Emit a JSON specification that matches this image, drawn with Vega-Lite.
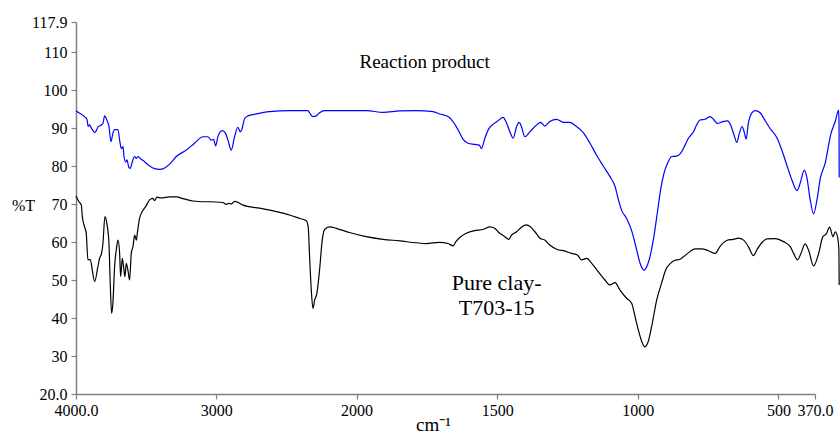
{
  "$schema": "https://vega.github.io/schema/vega-lite/v6.json",
  "width": 739,
  "height": 372,
  "autosize": {"type": "none"},
  "padding": {"left": 76, "top": 22, "right": 25, "bottom": 41},
  "background": "white",
  "config": {
    "view": {"stroke": null},
    "font": "Liberation Serif, serif",
    "axis": {
      "grid": false,
      "domainColor": "#808080",
      "domainWidth": 1.5,
      "tickColor": "#808080",
      "tickWidth": 1.2,
      "tickSize": 5,
      "labelColor": "#000000",
      "labelFont": "Liberation Serif, serif",
      "labelFontSize": 16,
      "titleFont": "Liberation Serif, serif",
      "titleFontWeight": "normal",
      "titleColor": "#000000"
    }
  },
  "datasets": {
    "spectra": [
      {"s": "b", "wn": 4000, "T": 94.5}, {"s": "b", "wn": 3974, "T": 93.9}, {"s": "b", "wn": 3939, "T": 93.0}, {"s": "b", "wn": 3922, "T": 92.3},
      {"s": "b", "wn": 3913, "T": 90.4}, {"s": "b", "wn": 3903, "T": 90.8}, {"s": "b", "wn": 3889, "T": 89.9}, {"s": "b", "wn": 3865, "T": 88.8},
      {"s": "b", "wn": 3844, "T": 90.2}, {"s": "b", "wn": 3820, "T": 90.8}, {"s": "b", "wn": 3808, "T": 91.2}, {"s": "b", "wn": 3796, "T": 93.2},
      {"s": "b", "wn": 3780, "T": 92.1}, {"s": "b", "wn": 3765, "T": 90.4}, {"s": "b", "wn": 3751, "T": 86.4}, {"s": "b", "wn": 3737, "T": 88.6},
      {"s": "b", "wn": 3725, "T": 89.6}, {"s": "b", "wn": 3701, "T": 89.6}, {"s": "b", "wn": 3689, "T": 86.8}, {"s": "b", "wn": 3677, "T": 84.6},
      {"s": "b", "wn": 3665, "T": 85.1}, {"s": "b", "wn": 3658, "T": 82.5}, {"s": "b", "wn": 3646, "T": 81.1}, {"s": "b", "wn": 3637, "T": 81.6},
      {"s": "b", "wn": 3623, "T": 79.6}, {"s": "b", "wn": 3613, "T": 79.4}, {"s": "b", "wn": 3599, "T": 81.1}, {"s": "b", "wn": 3582, "T": 82.5},
      {"s": "b", "wn": 3570, "T": 82.0}, {"s": "b", "wn": 3558, "T": 82.5}, {"s": "b", "wn": 3542, "T": 82.0}, {"s": "b", "wn": 3511, "T": 81.1},
      {"s": "b", "wn": 3475, "T": 80.0}, {"s": "b", "wn": 3440, "T": 79.3}, {"s": "b", "wn": 3404, "T": 79.1}, {"s": "b", "wn": 3368, "T": 79.5},
      {"s": "b", "wn": 3333, "T": 80.5}, {"s": "b", "wn": 3285, "T": 82.5}, {"s": "b", "wn": 3214, "T": 84.2}, {"s": "b", "wn": 3155, "T": 86.0},
      {"s": "b", "wn": 3095, "T": 87.7}, {"s": "b", "wn": 3060, "T": 87.7}, {"s": "b", "wn": 3036, "T": 86.8}, {"s": "b", "wn": 3019, "T": 87.0},
      {"s": "b", "wn": 3005, "T": 85.3}, {"s": "b", "wn": 2988, "T": 87.8}, {"s": "b", "wn": 2958, "T": 89.3}, {"s": "b", "wn": 2934, "T": 88.6},
      {"s": "b", "wn": 2917, "T": 86.8}, {"s": "b", "wn": 2893, "T": 84.2}, {"s": "b", "wn": 2870, "T": 87.7}, {"s": "b", "wn": 2846, "T": 90.2},
      {"s": "b", "wn": 2829, "T": 89.0}, {"s": "b", "wn": 2818, "T": 89.6}, {"s": "b", "wn": 2798, "T": 92.5}, {"s": "b", "wn": 2775, "T": 93.2},
      {"s": "b", "wn": 2715, "T": 93.7}, {"s": "b", "wn": 2620, "T": 94.3}, {"s": "b", "wn": 2478, "T": 94.6}, {"s": "b", "wn": 2347, "T": 94.6},
      {"s": "b", "wn": 2330, "T": 93.7}, {"s": "b", "wn": 2311, "T": 93.0}, {"s": "b", "wn": 2288, "T": 93.2}, {"s": "b", "wn": 2264, "T": 94.0},
      {"s": "b", "wn": 2228, "T": 94.6}, {"s": "b", "wn": 2050, "T": 94.6}, {"s": "b", "wn": 1965, "T": 94.6}, {"s": "b", "wn": 1906, "T": 94.1},
      {"s": "b", "wn": 1847, "T": 94.5}, {"s": "b", "wn": 1788, "T": 94.6}, {"s": "b", "wn": 1728, "T": 94.3}, {"s": "b", "wn": 1705, "T": 93.7},
      {"s": "b", "wn": 1675, "T": 93.0}, {"s": "b", "wn": 1657, "T": 91.7}, {"s": "b", "wn": 1639, "T": 89.5}, {"s": "b", "wn": 1621, "T": 87.0},
      {"s": "b", "wn": 1604, "T": 86.0}, {"s": "b", "wn": 1580, "T": 85.7}, {"s": "b", "wn": 1564, "T": 85.5}, {"s": "b", "wn": 1556, "T": 84.6},
      {"s": "b", "wn": 1544, "T": 87.3}, {"s": "b", "wn": 1529, "T": 89.9}, {"s": "b", "wn": 1518, "T": 90.8}, {"s": "b", "wn": 1497, "T": 91.9},
      {"s": "b", "wn": 1479, "T": 92.8}, {"s": "b", "wn": 1469, "T": 91.7}, {"s": "b", "wn": 1455, "T": 89.0}, {"s": "b", "wn": 1443, "T": 87.3},
      {"s": "b", "wn": 1431, "T": 90.4}, {"s": "b", "wn": 1422, "T": 91.5}, {"s": "b", "wn": 1414, "T": 90.4}, {"s": "b", "wn": 1402, "T": 87.7},
      {"s": "b", "wn": 1384, "T": 89.0}, {"s": "b", "wn": 1360, "T": 90.8}, {"s": "b", "wn": 1346, "T": 91.5}, {"s": "b", "wn": 1331, "T": 90.5},
      {"s": "b", "wn": 1313, "T": 91.7}, {"s": "b", "wn": 1289, "T": 92.3}, {"s": "b", "wn": 1265, "T": 91.5}, {"s": "b", "wn": 1242, "T": 91.5},
      {"s": "b", "wn": 1218, "T": 90.4}, {"s": "b", "wn": 1194, "T": 88.8}, {"s": "b", "wn": 1170, "T": 86.0}, {"s": "b", "wn": 1147, "T": 82.9},
      {"s": "b", "wn": 1123, "T": 80.0}, {"s": "b", "wn": 1099, "T": 77.2}, {"s": "b", "wn": 1081, "T": 74.6}, {"s": "b", "wn": 1069, "T": 71.1},
      {"s": "b", "wn": 1058, "T": 68.4}, {"s": "b", "wn": 1040, "T": 66.2}, {"s": "b", "wn": 1022, "T": 63.0}, {"s": "b", "wn": 1016, "T": 61.4},
      {"s": "b", "wn": 1004, "T": 57.9}, {"s": "b", "wn": 992, "T": 54.4}, {"s": "b", "wn": 978, "T": 52.6}, {"s": "b", "wn": 966, "T": 53.9},
      {"s": "b", "wn": 954, "T": 57.0}, {"s": "b", "wn": 943, "T": 61.4}, {"s": "b", "wn": 931, "T": 67.5}, {"s": "b", "wn": 919, "T": 73.7},
      {"s": "b", "wn": 907, "T": 78.1}, {"s": "b", "wn": 892, "T": 81.1}, {"s": "b", "wn": 880, "T": 82.5}, {"s": "b", "wn": 862, "T": 82.6},
      {"s": "b", "wn": 848, "T": 83.3}, {"s": "b", "wn": 832, "T": 85.5}, {"s": "b", "wn": 820, "T": 87.3}, {"s": "b", "wn": 802, "T": 89.0},
      {"s": "b", "wn": 791, "T": 90.8}, {"s": "b", "wn": 779, "T": 92.1}, {"s": "b", "wn": 761, "T": 92.3}, {"s": "b", "wn": 743, "T": 93.0},
      {"s": "b", "wn": 731, "T": 92.3}, {"s": "b", "wn": 717, "T": 91.2}, {"s": "b", "wn": 698, "T": 91.7}, {"s": "b", "wn": 681, "T": 91.9},
      {"s": "b", "wn": 670, "T": 90.8}, {"s": "b", "wn": 658, "T": 88.2}, {"s": "b", "wn": 648, "T": 86.2}, {"s": "b", "wn": 639, "T": 88.6},
      {"s": "b", "wn": 629, "T": 90.4}, {"s": "b", "wn": 622, "T": 89.0}, {"s": "b", "wn": 615, "T": 87.1}, {"s": "b", "wn": 607, "T": 91.2},
      {"s": "b", "wn": 595, "T": 93.9}, {"s": "b", "wn": 583, "T": 94.6}, {"s": "b", "wn": 565, "T": 94.0}, {"s": "b", "wn": 547, "T": 91.9},
      {"s": "b", "wn": 529, "T": 89.8}, {"s": "b", "wn": 506, "T": 87.5}, {"s": "b", "wn": 488, "T": 84.2}, {"s": "b", "wn": 470, "T": 80.2},
      {"s": "b", "wn": 452, "T": 76.3}, {"s": "b", "wn": 434, "T": 73.5}, {"s": "b", "wn": 423, "T": 75.4}, {"s": "b", "wn": 408, "T": 78.9},
      {"s": "b", "wn": 399, "T": 77.0}, {"s": "b", "wn": 387, "T": 71.1}, {"s": "b", "wn": 375, "T": 67.4}, {"s": "b", "wn": 363, "T": 71.1},
      {"s": "b", "wn": 351, "T": 76.8}, {"s": "b", "wn": 334, "T": 80.7}, {"s": "b", "wn": 313, "T": 88.6}, {"s": "b", "wn": 298, "T": 91.7},
      {"s": "b", "wn": 286, "T": 94.7}, {"s": "b", "wn": 284.5, "T": 91.0}, {"s": "b", "wn": 284, "T": 77.0},

      {"s": "k", "wn": 4000, "T": 72.1}, {"s": "k", "wn": 3979, "T": 70.6}, {"s": "k", "wn": 3962, "T": 69.7}, {"s": "k", "wn": 3955, "T": 66.7},
      {"s": "k", "wn": 3939, "T": 64.0}, {"s": "k", "wn": 3927, "T": 62.3}, {"s": "k", "wn": 3915, "T": 55.3}, {"s": "k", "wn": 3898, "T": 55.4},
      {"s": "k", "wn": 3884, "T": 52.6}, {"s": "k", "wn": 3867, "T": 49.6}, {"s": "k", "wn": 3844, "T": 53.5}, {"s": "k", "wn": 3832, "T": 55.7},
      {"s": "k", "wn": 3818, "T": 57.0}, {"s": "k", "wn": 3808, "T": 59.6}, {"s": "k", "wn": 3794, "T": 66.7}, {"s": "k", "wn": 3780, "T": 64.9},
      {"s": "k", "wn": 3765, "T": 59.6}, {"s": "k", "wn": 3756, "T": 49.1}, {"s": "k", "wn": 3746, "T": 41.2}, {"s": "k", "wn": 3737, "T": 43.9},
      {"s": "k", "wn": 3725, "T": 53.5}, {"s": "k", "wn": 3713, "T": 57.9}, {"s": "k", "wn": 3701, "T": 60.5}, {"s": "k", "wn": 3689, "T": 57.0},
      {"s": "k", "wn": 3682, "T": 50.9}, {"s": "k", "wn": 3670, "T": 55.7}, {"s": "k", "wn": 3661, "T": 53.5}, {"s": "k", "wn": 3651, "T": 50.9},
      {"s": "k", "wn": 3642, "T": 54.4}, {"s": "k", "wn": 3630, "T": 52.6}, {"s": "k", "wn": 3618, "T": 50.0}, {"s": "k", "wn": 3606, "T": 57.0},
      {"s": "k", "wn": 3594, "T": 58.8}, {"s": "k", "wn": 3582, "T": 61.8}, {"s": "k", "wn": 3570, "T": 60.5}, {"s": "k", "wn": 3563, "T": 62.3},
      {"s": "k", "wn": 3547, "T": 66.2}, {"s": "k", "wn": 3528, "T": 68.0}, {"s": "k", "wn": 3504, "T": 69.3}, {"s": "k", "wn": 3475, "T": 71.1},
      {"s": "k", "wn": 3452, "T": 71.5}, {"s": "k", "wn": 3440, "T": 70.9}, {"s": "k", "wn": 3423, "T": 71.8}, {"s": "k", "wn": 3392, "T": 71.6},
      {"s": "k", "wn": 3333, "T": 71.9}, {"s": "k", "wn": 3285, "T": 71.9}, {"s": "k", "wn": 3238, "T": 71.4}, {"s": "k", "wn": 3166, "T": 70.8},
      {"s": "k", "wn": 3095, "T": 70.6}, {"s": "k", "wn": 3048, "T": 70.6}, {"s": "k", "wn": 2953, "T": 70.4}, {"s": "k", "wn": 2929, "T": 69.9},
      {"s": "k", "wn": 2910, "T": 70.2}, {"s": "k", "wn": 2893, "T": 70.0}, {"s": "k", "wn": 2870, "T": 70.7}, {"s": "k", "wn": 2834, "T": 70.2},
      {"s": "k", "wn": 2810, "T": 69.7}, {"s": "k", "wn": 2691, "T": 68.9}, {"s": "k", "wn": 2573, "T": 68.0}, {"s": "k", "wn": 2478, "T": 67.1},
      {"s": "k", "wn": 2406, "T": 66.2}, {"s": "k", "wn": 2359, "T": 65.6}, {"s": "k", "wn": 2345, "T": 64.0}, {"s": "k", "wn": 2335, "T": 56.1},
      {"s": "k", "wn": 2323, "T": 47.4}, {"s": "k", "wn": 2311, "T": 42.5}, {"s": "k", "wn": 2299, "T": 44.7}, {"s": "k", "wn": 2283, "T": 46.5},
      {"s": "k", "wn": 2264, "T": 52.6}, {"s": "k", "wn": 2245, "T": 60.5}, {"s": "k", "wn": 2228, "T": 63.3}, {"s": "k", "wn": 2192, "T": 64.0},
      {"s": "k", "wn": 2145, "T": 63.6}, {"s": "k", "wn": 2050, "T": 62.5}, {"s": "k", "wn": 1966, "T": 61.4}, {"s": "k", "wn": 1906, "T": 60.7},
      {"s": "k", "wn": 1847, "T": 60.3}, {"s": "k", "wn": 1788, "T": 59.8}, {"s": "k", "wn": 1752, "T": 59.6}, {"s": "k", "wn": 1705, "T": 59.9},
      {"s": "k", "wn": 1675, "T": 59.6}, {"s": "k", "wn": 1657, "T": 59.0}, {"s": "k", "wn": 1647, "T": 60.1}, {"s": "k", "wn": 1633, "T": 61.2},
      {"s": "k", "wn": 1610, "T": 62.3}, {"s": "k", "wn": 1580, "T": 63.0}, {"s": "k", "wn": 1550, "T": 63.3}, {"s": "k", "wn": 1526, "T": 64.0},
      {"s": "k", "wn": 1509, "T": 63.6}, {"s": "k", "wn": 1491, "T": 62.3}, {"s": "k", "wn": 1473, "T": 61.4}, {"s": "k", "wn": 1459, "T": 60.7},
      {"s": "k", "wn": 1449, "T": 61.8}, {"s": "k", "wn": 1431, "T": 62.7}, {"s": "k", "wn": 1414, "T": 63.9}, {"s": "k", "wn": 1396, "T": 64.5},
      {"s": "k", "wn": 1382, "T": 64.0}, {"s": "k", "wn": 1366, "T": 62.7}, {"s": "k", "wn": 1348, "T": 61.0}, {"s": "k", "wn": 1331, "T": 60.5},
      {"s": "k", "wn": 1313, "T": 59.2}, {"s": "k", "wn": 1289, "T": 58.1}, {"s": "k", "wn": 1259, "T": 57.6}, {"s": "k", "wn": 1236, "T": 57.0},
      {"s": "k", "wn": 1215, "T": 56.6}, {"s": "k", "wn": 1200, "T": 55.3}, {"s": "k", "wn": 1182, "T": 55.7}, {"s": "k", "wn": 1164, "T": 54.4},
      {"s": "k", "wn": 1141, "T": 52.2}, {"s": "k", "wn": 1117, "T": 50.0}, {"s": "k", "wn": 1099, "T": 48.7}, {"s": "k", "wn": 1081, "T": 49.3},
      {"s": "k", "wn": 1064, "T": 47.4}, {"s": "k", "wn": 1040, "T": 45.2}, {"s": "k", "wn": 1022, "T": 43.9}, {"s": "k", "wn": 1010, "T": 40.4},
      {"s": "k", "wn": 998, "T": 36.8}, {"s": "k", "wn": 986, "T": 33.8}, {"s": "k", "wn": 975, "T": 32.4}, {"s": "k", "wn": 963, "T": 33.8},
      {"s": "k", "wn": 951, "T": 37.7}, {"s": "k", "wn": 933, "T": 44.7}, {"s": "k", "wn": 915, "T": 49.3}, {"s": "k", "wn": 900, "T": 52.8},
      {"s": "k", "wn": 885, "T": 54.3}, {"s": "k", "wn": 868, "T": 55.2}, {"s": "k", "wn": 852, "T": 55.4}, {"s": "k", "wn": 838, "T": 56.1},
      {"s": "k", "wn": 814, "T": 57.5}, {"s": "k", "wn": 797, "T": 58.2}, {"s": "k", "wn": 773, "T": 58.2}, {"s": "k", "wn": 749, "T": 57.7},
      {"s": "k", "wn": 725, "T": 57.0}, {"s": "k", "wn": 708, "T": 58.8}, {"s": "k", "wn": 684, "T": 60.4}, {"s": "k", "wn": 660, "T": 60.7},
      {"s": "k", "wn": 642, "T": 61.0}, {"s": "k", "wn": 624, "T": 60.5}, {"s": "k", "wn": 607, "T": 58.8}, {"s": "k", "wn": 589, "T": 56.4},
      {"s": "k", "wn": 577, "T": 57.9}, {"s": "k", "wn": 559, "T": 59.8}, {"s": "k", "wn": 541, "T": 60.8}, {"s": "k", "wn": 512, "T": 60.9},
      {"s": "k", "wn": 482, "T": 60.1}, {"s": "k", "wn": 458, "T": 58.8}, {"s": "k", "wn": 446, "T": 57.0}, {"s": "k", "wn": 432, "T": 55.3},
      {"s": "k", "wn": 420, "T": 57.0}, {"s": "k", "wn": 405, "T": 59.5}, {"s": "k", "wn": 393, "T": 57.9}, {"s": "k", "wn": 375, "T": 53.7},
      {"s": "k", "wn": 357, "T": 57.0}, {"s": "k", "wn": 342, "T": 61.4}, {"s": "k", "wn": 330, "T": 62.1}, {"s": "k", "wn": 318, "T": 63.9},
      {"s": "k", "wn": 306, "T": 61.4}, {"s": "k", "wn": 298, "T": 62.7}, {"s": "k", "wn": 290, "T": 61.4}, {"s": "k", "wn": 285, "T": 57.9},
      {"s": "k", "wn": 284, "T": 48.7}
    ],
    "note1": [{"wn": 1758, "T": 107.4, "label": "Reaction product"}],
    "note2": [
      {"wn": 1502, "T": 49.1, "label": "Pure clay-"},
      {"wn": 1502, "T": 42.6, "label": "T703-15"}
    ]
  },
  "encoding": {
    "x": {
      "field": "wn",
      "type": "quantitative",
      "scale": {"domain": [4000, 2000, 370], "range": [0, 280.6, 739], "nice": false, "zero": false},
      "axis": {
        "values": [4000, 3000, 2000, 1500, 1000, 500, 370],
        "labelExpr": "datum.value == 4000 ? '4000.0' : datum.value == 370 ? '370.0' : format(datum.value, 'd')",
        "labelFont": "Liberation Serif, serif",
        "labelFontSize": 16,
        "labelPadding": 3,
        "labelFlush": false,
        "labelOverlap": false,
        "title": "cm⁻¹",
        "titleFont": "Liberation Serif, serif",
        "titleFontSize": 19,
        "titleX": 357,
        "titleY": 36,
        "titleBaseline": "alphabetic",
        "titleAlign": "center"
      }
    },
    "y": {
      "field": "T",
      "type": "quantitative",
      "scale": {"domain": [20, 117.9], "nice": false, "zero": false},
      "axis": {
        "values": [20, 30, 40, 50, 60, 70, 80, 90, 100, 110, 117.9],
        "labelExpr": "datum.value == 20 ? '20.0' : datum.value == 117.9 ? '117.9' : format(datum.value, 'd')",
        "labelFont": "Liberation Serif, serif",
        "labelFontSize": 16,
        "labelPadding": 4,
        "labelFlush": false,
        "labelOverlap": false,
        "title": "%T",
        "titleFont": "Liberation Serif, serif",
        "titleFontSize": 16,
        "titleAngle": 0,
        "titleX": -53,
        "titleY": 183,
        "titleAlign": "center",
        "titleBaseline": "middle"
      }
    }
  },
  "layer": [
    {
      "data": {"name": "spectra"},
      "mark": {"type": "line", "strokeWidth": 1.2, "interpolate": "monotone", "clip": false},
      "encoding": {
        "color": {"field": "s", "type": "nominal", "scale": {"domain": ["b", "k"], "range": ["#0000ff", "#000000"]}, "legend": null}
      }
    },
    {
      "data": {"name": "note1"},
      "mark": {"type": "text", "font": "Liberation Serif, serif", "fontSize": 19, "align": "center", "baseline": "middle", "color": "#000000"},
      "encoding": {"text": {"field": "label"}}
    },
    {
      "data": {"name": "note2"},
      "mark": {"type": "text", "font": "Liberation Serif, serif", "fontSize": 22, "align": "center", "baseline": "middle", "color": "#000000"},
      "encoding": {"text": {"field": "label"}}
    }
  ]
}
